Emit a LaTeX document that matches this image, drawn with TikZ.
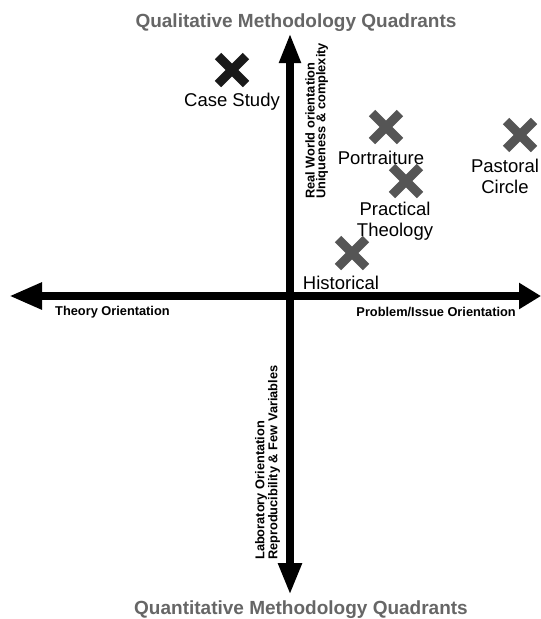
\documentclass[tikz,border=0pt]{standalone}
\usepackage{fontspec}
\setmainfont{Liberation Sans}
\usetikzlibrary{arrows.meta}
\definecolor{titlegray}{HTML}{666666}
\definecolor{crossgray}{HTML}{555555}
\definecolor{crossdark}{HTML}{1A1A1A}
\tikzset{
  xmark/.pic={\draw[line width=9pt,pic actions] (-14,-14) -- (14,14) (-14,14) -- (14,-14);},
  axis/.style={line width=8.5pt,black},
  heading/.style={font=\bfseries\fontsize{19}{22}\selectfont,text=titlegray},
  lbl/.style={font=\fontsize{18.5}{21}\selectfont,align=center,inner sep=0pt},
  axlbl/.style={font=\bfseries\fontsize{12.8}{14}\selectfont,inner sep=0pt},
}
\begin{document}
\begin{tikzpicture}[x=1pt,y=-1pt]
\useasboundingbox[fill=white] (0,0) rectangle (541,619);
\clip (0,0) rectangle (541,619);

% axes
\coordinate (L) at (9,296);
\coordinate (R) at (541,296);
\coordinate (T) at (290,33);
\coordinate (B) at (290,595);
\draw[axis,{Triangle[length=33pt,width=25pt]}-{Triangle[length=22pt,width=25pt]}] (L) -- (R);
\draw[axis,{Triangle[length=32pt,width=22pt]}-{Triangle[length=30pt,width=20pt]}] (B) -- (T);

% headings
\node[heading] (qual) at (296,23) {Qualitative Methodology Quadrants};
\node[heading] (quant) at (301,610) {Quantitative Methodology Quadrants};

% axis labels
\node[axlbl,anchor=west] (theory) at (55,312) {Theory Orientation};
\node[axlbl,anchor=east] (problem) at (516,312) {Problem/Issue Orientation};
\node[axlbl,rotate=90,anchor=west] (real) at (310,199) {Real World orientation};
\node[axlbl,rotate=90,anchor=west] (unique) at (322,199) {Uniqueness \& complexity};
\node[axlbl,rotate=90,anchor=west] (lab) at (261,560) {Laboratory Orientation};
\node[axlbl,rotate=90,anchor=west] (repro) at (274,560) {Reproducibility \& Few Variables};

% methodologies
\pic[color=crossdark] (case) at (232,70) {xmark};
\node[lbl] (lcase) at (232,102) {Case Study};
\pic[color=crossgray] (port) at (386,127) {xmark};
\node[lbl] (lport) at (381,158) {Portraiture};
\pic[color=crossgray] (prac) at (406,181) {xmark};
\node[lbl] (lprac) at (395,221) {Practical\\Theology};
\pic[color=crossgray] (past) at (520,135) {xmark};
\node[lbl] (lpast) at (505,176) {Pastoral\\Circle};
\pic[color=crossgray] (hist) at (352,253) {xmark};
\node[lbl] (lhist) at (341,283) {Historical};
\end{tikzpicture}
\end{document}
